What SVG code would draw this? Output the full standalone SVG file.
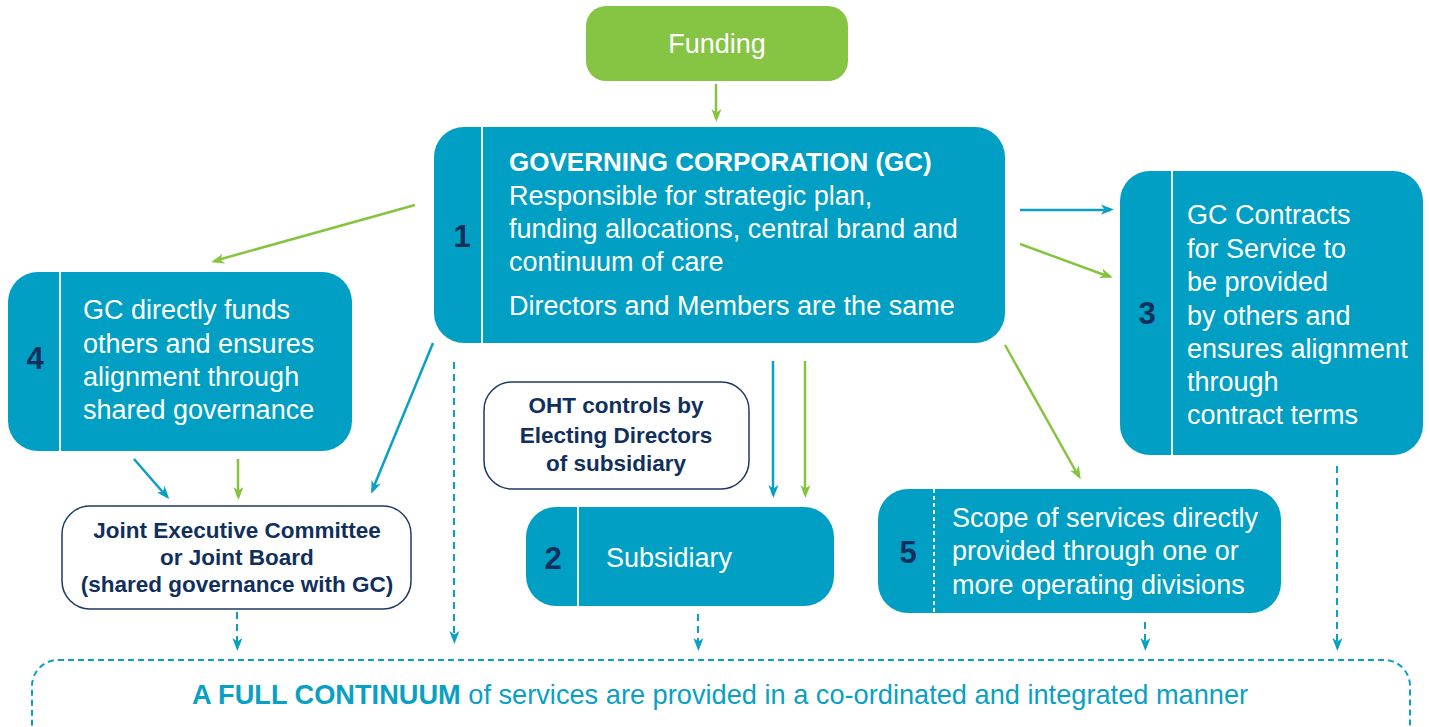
<svg xmlns="http://www.w3.org/2000/svg" width="1430" height="727" viewBox="0 0 1430 727">
<style>
.box{fill:#009fc3}
.div{stroke:#e6f6fa;stroke-width:2}
.num{font-family:"Liberation Sans",Arial,sans-serif;font-weight:bold;font-size:31px;fill:#112f5c}
.wt{font-family:"Liberation Sans",Arial,sans-serif;font-size:27px;fill:#ffffff}
.ttl{font-size:26px;font-weight:bold}
.nv{font-family:"Liberation Sans",Arial,sans-serif;font-size:22.5px;font-weight:bold;fill:#112f5c;text-anchor:middle}
.ob{fill:#ffffff;stroke:#1d3a66;stroke-width:1.5}
.cb{stroke:#0a9fc5;stroke-width:2.5;fill:none}
.cg{stroke:#86c440;stroke-width:2.5;fill:none}
.cd{stroke:#0a9fc5;stroke-width:2;fill:none;stroke-dasharray:7,5}
</style>
<defs>
<marker id="ab" viewBox="0 0 10 10" refX="9" refY="5" markerWidth="8" markerHeight="8" markerUnits="userSpaceOnUse" orient="auto" overflow="visible"><path d="M-4,-2 L14,5 L-4,12 L1,5 Z" fill="#0a9fc5" transform="scale(0.9)"/></marker>
<marker id="ag" viewBox="0 0 10 10" refX="9" refY="5" markerWidth="8" markerHeight="8" markerUnits="userSpaceOnUse" orient="auto" overflow="visible"><path d="M-4,-2 L14,5 L-4,12 L1,5 Z" fill="#86c440" transform="scale(0.9)"/></marker>
</defs>

<g id="funding">
<rect x="586" y="6" width="262" height="75" rx="20" fill="#86c443"/>
<text x="717" y="53" class="wt" text-anchor="middle">Funding</text>
</g>

<g id="gc">
<rect x="434" y="127" width="571" height="216" rx="30" class="box"/>
<line x1="482" y1="127" x2="482" y2="343" class="div"/>
<text x="462" y="247" class="num" text-anchor="middle">1</text>
<text x="509" y="171" class="wt ttl">GOVERNING CORPORATION (GC)</text>
<text x="509" y="205" class="wt">Responsible for strategic plan,</text>
<text x="509" y="238" class="wt">funding allocations, central brand and</text>
<text x="509" y="271" class="wt">continuum of care</text>
<text x="509" y="315" class="wt">Directors and Members are the same</text>
</g>

<g id="box4">
<rect x="8" y="272" width="344" height="179" rx="30" class="box"/>
<line x1="60" y1="272" x2="60" y2="451" class="div"/>
<text x="35" y="369" class="num" text-anchor="middle">4</text>
<text x="83" y="319" class="wt">GC directly funds</text>
<text x="83" y="353" class="wt">others and ensures</text>
<text x="83" y="386" class="wt">alignment through</text>
<text x="83" y="419" class="wt">shared governance</text>
</g>

<g id="box3">
<rect x="1120" y="171" width="303" height="284" rx="30" class="box"/>
<line x1="1172" y1="171" x2="1172" y2="455" class="div"/>
<text x="1147" y="324" class="num" text-anchor="middle">3</text>
<text x="1187" y="224" class="wt">GC Contracts</text>
<text x="1187" y="258" class="wt">for Service to</text>
<text x="1187" y="291" class="wt">be provided</text>
<text x="1187" y="325" class="wt">by others and</text>
<text x="1187" y="358" class="wt">ensures alignment</text>
<text x="1187" y="391" class="wt">through</text>
<text x="1187" y="424" class="wt">contract terms</text>
</g>

<g id="box2">
<rect x="526" y="507" width="308" height="99" rx="30" class="box"/>
<line x1="578" y1="507" x2="578" y2="606" class="div"/>
<text x="553" y="569" class="num" text-anchor="middle">2</text>
<text x="606" y="567" class="wt">Subsidiary</text>
</g>

<g id="box5">
<rect x="878" y="489" width="403" height="124" rx="30" class="box"/>
<line x1="934" y1="489" x2="934" y2="613" class="div" stroke-dasharray="4,3" stroke-width="1.5"/>
<text x="908" y="563" class="num" text-anchor="middle">5</text>
<text x="952" y="527" class="wt">Scope of services directly</text>
<text x="952" y="560" class="wt">provided through one or</text>
<text x="952" y="594" class="wt">more operating divisions</text>
</g>

<g id="joint">
<rect x="62" y="506" width="349" height="103" rx="28" class="ob"/>
<text x="237" y="538" class="nv">Joint Executive Committee</text>
<text x="237" y="565" class="nv">or Joint Board</text>
<text x="237" y="592" class="nv">(shared governance with GC)</text>
</g>

<g id="oht">
<rect x="484" y="382" width="265" height="107" rx="28" class="ob"/>
<text x="616" y="413" class="nv">OHT controls by</text>
<text x="616" y="443" class="nv">Electing Directors</text>
<text x="616" y="471" class="nv">of subsidiary</text>
</g>

<g id="continuum">
<rect x="32" y="660" width="1378" height="90" rx="26" fill="none" stroke="#0a9fc5" stroke-width="2" stroke-dasharray="6,4"/>
<text x="720" y="704" font-family="'Liberation Sans',Arial,sans-serif" font-size="27.2" fill="#0a9fc5" text-anchor="middle"><tspan font-weight="bold">A FULL CONTINUUM</tspan> of services are provided in a co-ordinated and integrated manner</text>
</g>

<g id="connectors">
<line x1="716" y1="84" x2="716" y2="119" class="cg" marker-end="url(#ag)"/>
<line x1="415" y1="205" x2="214" y2="261" class="cg" marker-end="url(#ag)"/>
<line x1="433" y1="343" x2="372" y2="491" class="cb" marker-end="url(#ab)"/>
<line x1="454" y1="362" x2="454" y2="641" class="cd" marker-end="url(#ab)"/>
<line x1="134" y1="459" x2="167" y2="497" class="cb" marker-end="url(#ab)"/>
<line x1="238" y1="459" x2="238" y2="497" class="cg" marker-end="url(#ag)"/>
<line x1="237" y1="612" x2="237" y2="648" class="cd" marker-end="url(#ab)"/>
<line x1="773" y1="361" x2="773" y2="495" class="cb" marker-end="url(#ab)"/>
<line x1="805" y1="361" x2="805" y2="495" class="cg" marker-end="url(#ag)"/>
<line x1="698" y1="614" x2="698" y2="648" class="cd" marker-end="url(#ab)"/>
<line x1="1020" y1="210" x2="1111" y2="210" class="cb" marker-end="url(#ab)"/>
<line x1="1020" y1="244" x2="1110" y2="277" class="cg" marker-end="url(#ag)"/>
<line x1="1005" y1="345" x2="1079" y2="477" class="cg" marker-end="url(#ag)"/>
<line x1="1145" y1="622" x2="1145" y2="648" class="cd" marker-end="url(#ab)"/>
<line x1="1337" y1="466" x2="1337" y2="648" class="cd" marker-end="url(#ab)"/>
</g>
</svg>
